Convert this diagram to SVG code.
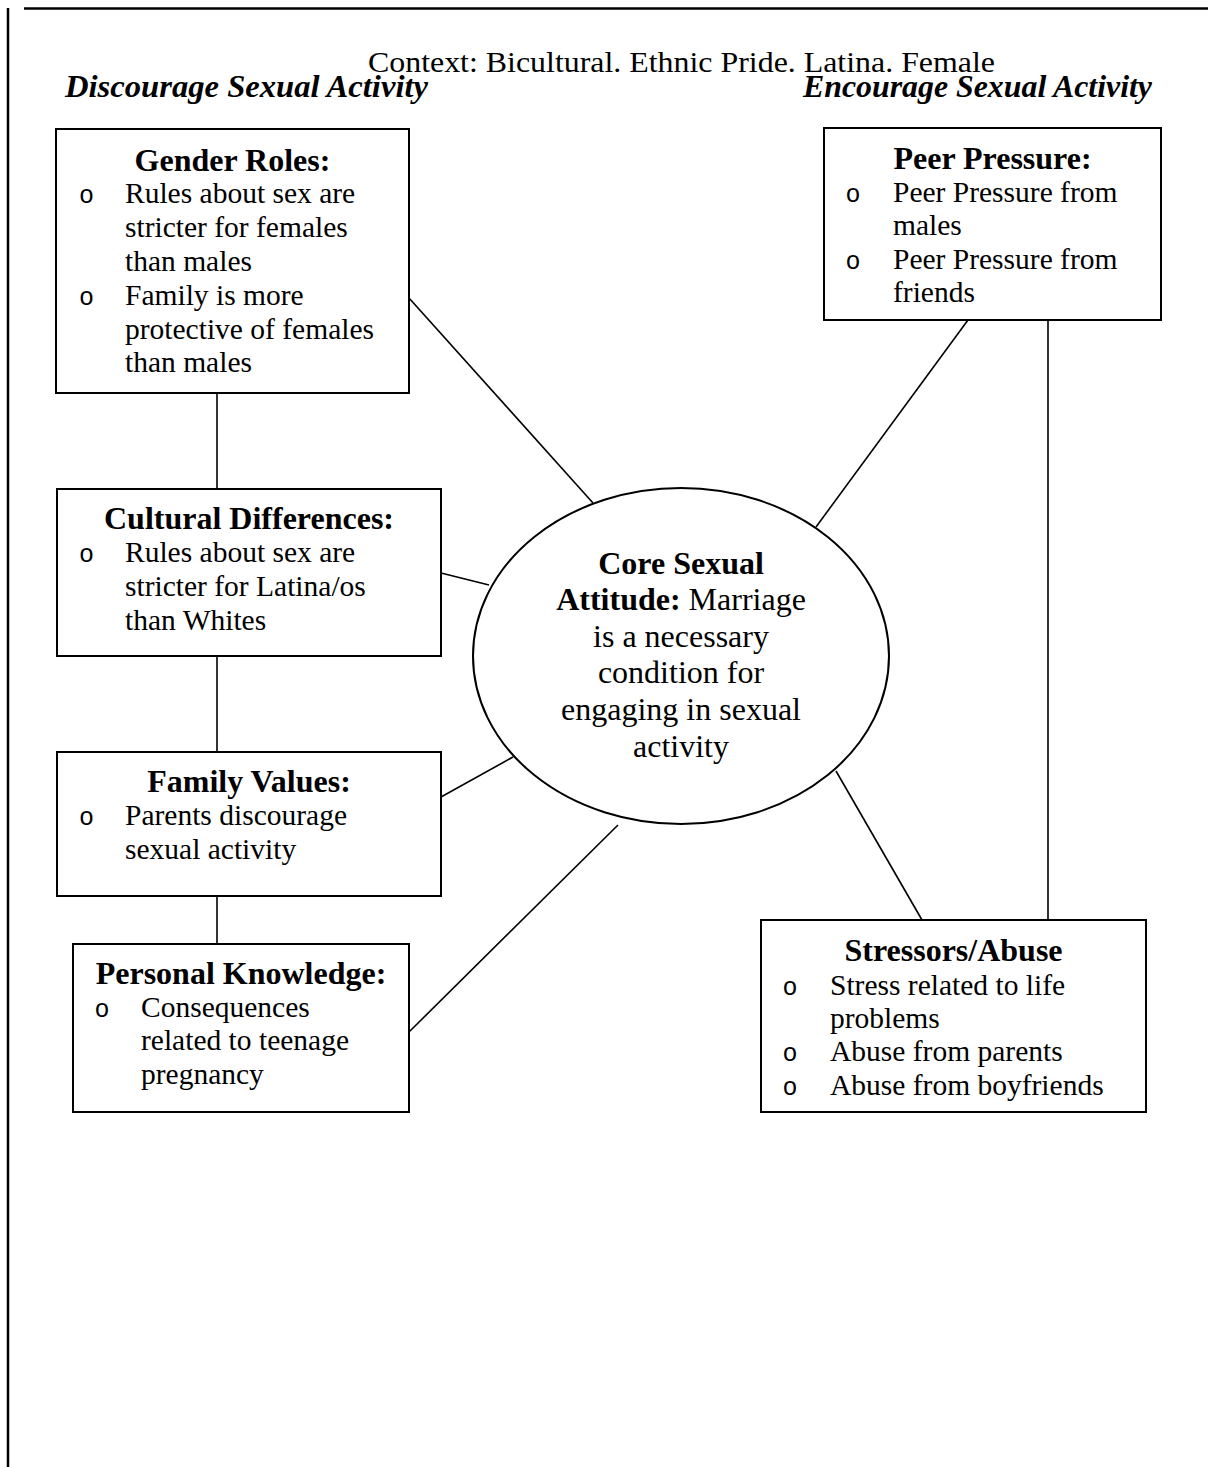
<svg xmlns="http://www.w3.org/2000/svg" width="1208" height="1467" viewBox="0 0 1208 1467">
<style>
  .box { fill: #fff; stroke: #000; stroke-width: 2; }
  .conn line { stroke: #000; stroke-width: 1.6; }
  .frame { stroke: #000; stroke-width: 2.5; }
  .t { font-family: "Liberation Serif", "Times New Roman", serif; font-size: 29.5px; fill: #000; }
  .h { font-family: "Liberation Serif", "Times New Roman", serif; font-size: 32px; font-weight: bold; fill: #000; text-anchor: middle; }
  .b { font-family: "Liberation Mono", "Courier New", monospace; font-size: 25px; fill: #000; text-anchor: middle; }
  .lab { font-family: "Liberation Serif", "Times New Roman", serif; font-size: 32px; font-weight: bold; font-style: italic; fill: #000; }
  .c { font-family: "Liberation Serif", "Times New Roman", serif; font-size: 32px; fill: #000; text-anchor: middle; }
</style>
<rect width="1208" height="1467" fill="#fff"/>
<g id="frame">
  <line class="frame" x1="24" y1="8.5" x2="1208" y2="8.5"/>
  <line class="frame" x1="8" y1="8" x2="8" y2="1467"/>
</g>
<g id="labels">
  <text class="lab" x="65" y="97" textLength="363" lengthAdjust="spacingAndGlyphs">Discourage Sexual Activity</text>
  <text class="lab" x="803" y="97" textLength="349" lengthAdjust="spacingAndGlyphs">Encourage Sexual Activity</text>
  <text class="t" x="368" y="72" style="font-size:30px" textLength="627" lengthAdjust="spacingAndGlyphs">Context: Bicultural. Ethnic Pride. Latina. Female</text>
</g>
<g id="connectors" class="conn">
  <line x1="409" y1="298" x2="593" y2="503"/>
  <line x1="217" y1="393" x2="217" y2="489"/>
  <line x1="441" y1="573" x2="489" y2="585"/>
  <line x1="217" y1="656" x2="217" y2="752"/>
  <line x1="441" y1="797" x2="513" y2="757"/>
  <line x1="217" y1="896" x2="217" y2="944"/>
  <line x1="409" y1="1032" x2="618" y2="825"/>
  <line x1="968" y1="320" x2="816" y2="527"/>
  <line x1="1048" y1="320" x2="1048" y2="920"/>
  <line x1="836" y1="771" x2="922" y2="920"/>
</g>
<g id="gender-roles">
  <rect class="box" x="56" y="129" width="353" height="264"/>
  <text class="h" x="232.5" y="170.5">Gender Roles:</text>
  <text class="b" x="86.5" y="203">o</text>
  <text class="t" x="125" y="203">Rules about sex are</text>
  <text class="t" x="125" y="237">stricter for females</text>
  <text class="t" x="125" y="271">than males</text>
  <text class="b" x="86.5" y="305">o</text>
  <text class="t" x="125" y="305">Family is more</text>
  <text class="t" x="125" y="338.5">protective of females</text>
  <text class="t" x="125" y="372">than males</text>
</g>
<g id="cultural-differences">
  <rect class="box" x="57" y="489" width="384" height="167"/>
  <text class="h" x="249" y="528.5">Cultural Differences:</text>
  <text class="b" x="86.5" y="562">o</text>
  <text class="t" x="125" y="562">Rules about sex are</text>
  <text class="t" x="125" y="596">stricter for Latina/os</text>
  <text class="t" x="125" y="629.5">than Whites</text>
</g>
<g id="family-values">
  <rect class="box" x="57" y="752" width="384" height="144"/>
  <text class="h" x="249" y="791.5">Family Values:</text>
  <text class="b" x="86.5" y="825">o</text>
  <text class="t" x="125" y="825">Parents discourage</text>
  <text class="t" x="125" y="858.5">sexual activity</text>
</g>
<g id="personal-knowledge">
  <rect class="box" x="73" y="944" width="336" height="168"/>
  <text class="h" x="241" y="983.5">Personal Knowledge:</text>
  <text class="b" x="102" y="1016.5">o</text>
  <text class="t" x="141" y="1016.5">Consequences</text>
  <text class="t" x="141" y="1050">related to teenage</text>
  <text class="t" x="141" y="1083.5">pregnancy</text>
</g>
<g id="peer-pressure">
  <rect class="box" x="824" y="128" width="337" height="192"/>
  <text class="h" x="992.5" y="168.5">Peer Pressure:</text>
  <text class="b" x="853" y="201.5">o</text>
  <text class="t" x="893" y="201.5">Peer Pressure from</text>
  <text class="t" x="893" y="235">males</text>
  <text class="b" x="853" y="269">o</text>
  <text class="t" x="893" y="269">Peer Pressure from</text>
  <text class="t" x="893" y="302">friends</text>
</g>
<g id="stressors-abuse">
  <rect class="box" x="761" y="920" width="385" height="192"/>
  <text class="h" x="953.5" y="961">Stressors/Abuse</text>
  <text class="b" x="790" y="994.5">o</text>
  <text class="t" x="830" y="994.5">Stress related to life</text>
  <text class="t" x="830" y="1028">problems</text>
  <text class="b" x="790" y="1061">o</text>
  <text class="t" x="830" y="1061">Abuse from parents</text>
  <text class="b" x="790" y="1094.5">o</text>
  <text class="t" x="830" y="1094.5">Abuse from boyfriends</text>
</g>
<g id="core-attitude">
  <ellipse class="box" cx="681" cy="656" rx="208" ry="168"/>
  <text class="c" x="681" y="574" font-weight="bold">Core Sexual</text>
  <text class="c" x="681" y="610"><tspan font-weight="bold">Attitude:</tspan> Marriage</text>
  <text class="c" x="681" y="647">is a necessary</text>
  <text class="c" x="681" y="683">condition for</text>
  <text class="c" x="681" y="720">engaging in sexual</text>
  <text class="c" x="681" y="757">activity</text>
</g>
</svg>
